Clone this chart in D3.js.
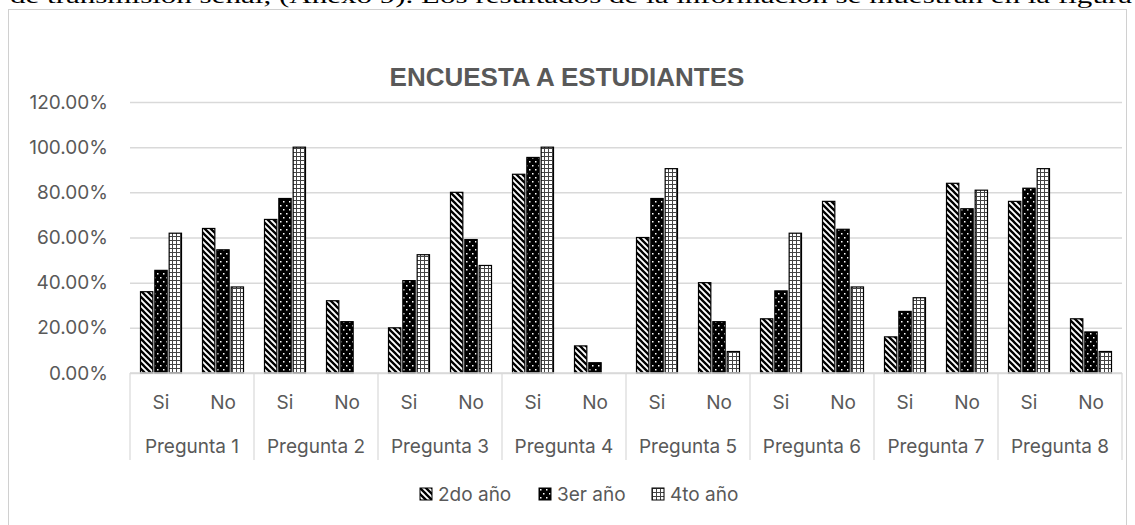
<!DOCTYPE html>
<html><head><meta charset="utf-8">
<script src="https://cdn.jsdelivr.net/npm/d3@7"></script>
<style>
html,body{margin:0;padding:0;background:#fff;overflow:hidden;}
svg{display:block;}
</style></head>
<body>
<svg id="c" width="1135" height="525"></svg>
<script>
const topLine = "de transmisión señal, (Anexo 9). Los resultados de la información se muestran en la figura";
const title = "ENCUESTA A ESTUDIANTES";
const preguntas = ["Pregunta 1","Pregunta 2","Pregunta 3","Pregunta 4","Pregunta 5","Pregunta 6","Pregunta 7","Pregunta 8"];
const respuestas = ["Si","No"];
const series = ["2do año","3er año","4to año"];
// values in %, order: P1 Si, P1 No, P2 Si, P2 No, ...
const v2do = [36,64, 68,32, 20,80, 88,12, 60,40, 24,76, 16,84, 76,24];
const v3er = [45.45,54.55, 77.27,22.73, 40.91,59.09, 95.45,4.55, 77.27,22.73, 36.36,63.64, 27.27,72.73, 81.82,18.18];
const v4to = [61.9,38.1, 100,0, 52.38,47.62, 100,0, 90.48,9.52, 61.9,38.1, 33.33,80.95, 90.48,9.52];
const yTicks = [0,20,40,60,80,100,120];

const svg = d3.select("#c");
const defs = svg.append("defs");

// pattern 2do: wide downward diagonal
const p1 = defs.append("pattern").attr("id","pat0").attr("patternUnits","userSpaceOnUse")
  .attr("width",6).attr("height",6);
p1.append("rect").attr("width",6).attr("height",6).attr("fill","#fff");
p1.append("path").attr("d","M-1,-1 L7,7 M-1,5 L1,7 M5,-1 L7,1").attr("stroke","#000").attr("stroke-width",2.3);
// pattern 3er: black with white dots
const p2 = defs.append("pattern").attr("id","pat1").attr("patternUnits","userSpaceOnUse")
  .attr("width",6).attr("height",8);
p2.append("rect").attr("width",6).attr("height",8).attr("fill","#000");
p2.append("rect").attr("x",1).attr("y",1).attr("width",1.5).attr("height",1.5).attr("fill","#fff");
p2.append("rect").attr("x",4).attr("y",5).attr("width",1.5).attr("height",1.5).attr("fill","#fff");
// pattern 4to: light dotted grid
const p3 = defs.append("pattern").attr("id","pat2").attr("patternUnits","userSpaceOnUse")
  .attr("width",4).attr("height",4);
p3.append("rect").attr("width",4).attr("height",4).attr("fill","#fff");
p3.append("rect").attr("x",0).attr("y",0).attr("width",4).attr("height",1).attr("fill","#444");
p3.append("rect").attr("x",0).attr("y",0).attr("width",1).attr("height",4).attr("fill","#444");

// top document text (cropped by the page edge, as in the reference)
svg.append("text").attr("x",10).attr("y",3)
  .attr("font-family","Liberation Serif, serif").attr("font-size",21)
  .attr("textLength",1122).attr("lengthAdjust","spacingAndGlyphs")
  .attr("fill","#000").text(topLine);

// frame
svg.append("rect").attr("x",8.5).attr("y",9.5).attr("width",1118).attr("height",530)
  .attr("fill","#fff").attr("stroke","#d0d0d0").attr("stroke-width",1);

const L = 130, R = 1122, T = 102, B = 373;
const y = d3.scaleLinear().domain([0,120]).range([B,T]);
const x0 = d3.scaleBand().domain(preguntas).range([L,R]);
const x1 = d3.scaleBand().domain(respuestas).range([0,x0.bandwidth()]);
const x2 = d3.scaleBand().domain(series).range([10.5, x1.bandwidth()-10.5]).paddingInner(0.14);

const FONT = "Inter, Roboto, sans-serif";

// title
svg.append("text").attr("x",567).attr("y",86).attr("text-anchor","middle")
  .attr("font-family","Liberation Sans, Arial, sans-serif").attr("font-weight","bold")
  .attr("font-size",26).attr("fill","#595959").text(title);

// gridlines & y axis
const yAxis = d3.axisLeft(y).tickValues(yTicks).tickSize(-(R-L)).tickFormat(d => d.toFixed(2)+"%");
const gy = svg.append("g").attr("transform",`translate(${L},0)`).call(yAxis);
gy.select(".domain").remove();
gy.selectAll(".tick line").attr("stroke","#d9d9d9").attr("stroke-width",1.5);
gy.selectAll(".tick text").attr("x",-22).attr("font-family",FONT)
  .attr("font-size",19).attr("fill","#595959");

// bars
const allVals = [v2do, v3er, v4to];
const data = [];
preguntas.forEach((p,i) => respuestas.forEach((r,j) => series.forEach((s,k) => {
  data.push({p, r, s, k, v: allVals[k][i*2+j]});
})));
svg.append("g").selectAll("rect").data(data.filter(d => d.v > 0)).join("rect")
  .attr("x", d => x0(d.p) + x1(d.r) + x2(d.s))
  .attr("y", d => y(d.v))
  .attr("width", x2.bandwidth())
  .attr("height", d => B - y(d.v))
  .attr("fill", d => `url(#pat${d.k})`)
  .attr("stroke","#000").attr("stroke-width",1.2);

// category axis
svg.append("line").attr("x1",L).attr("x2",R).attr("y1",B).attr("y2",B)
  .attr("stroke","#d9d9d9").attr("stroke-width",1.5);
const bounds = preguntas.map(p => x0(p)).concat([R]);
svg.append("g").selectAll("line").data(bounds).join("line")
  .attr("x1", d => d).attr("x2", d => d).attr("y1", B).attr("y2", 460)
  .attr("stroke","#d9d9d9").attr("stroke-width",1.2);

const sub = [];
preguntas.forEach(p => respuestas.forEach(r => sub.push({p,r})));
svg.append("g").selectAll("text").data(sub).join("text")
  .attr("x", d => x0(d.p) + x1(d.r) + x1.bandwidth()/2)
  .attr("y", 409).attr("text-anchor","middle")
  .attr("font-family",FONT).attr("font-size",19).attr("fill","#595959")
  .text(d => d.r);
svg.append("g").selectAll("text").data(preguntas).join("text")
  .attr("x", d => x0(d) + x0.bandwidth()/2)
  .attr("y", 453).attr("text-anchor","middle")
  .attr("font-family",FONT).attr("font-size",19).attr("fill","#595959")
  .text(d => d);

// legend
const legX = [420, 539, 652];
const lg = svg.append("g").selectAll("g").data(series).join("g")
  .attr("transform",(d,i)=>`translate(${legX[i]},488)`);
lg.append("rect").attr("width",12).attr("height",12)
  .attr("fill",(d,i)=>`url(#pat${i})`).attr("stroke","#000").attr("stroke-width",1);
lg.append("text").attr("x",18).attr("y",12.5)
  .attr("font-family",FONT).attr("font-size",19).attr("fill","#595959")
  .text(d => d);
</script>
</body></html>
